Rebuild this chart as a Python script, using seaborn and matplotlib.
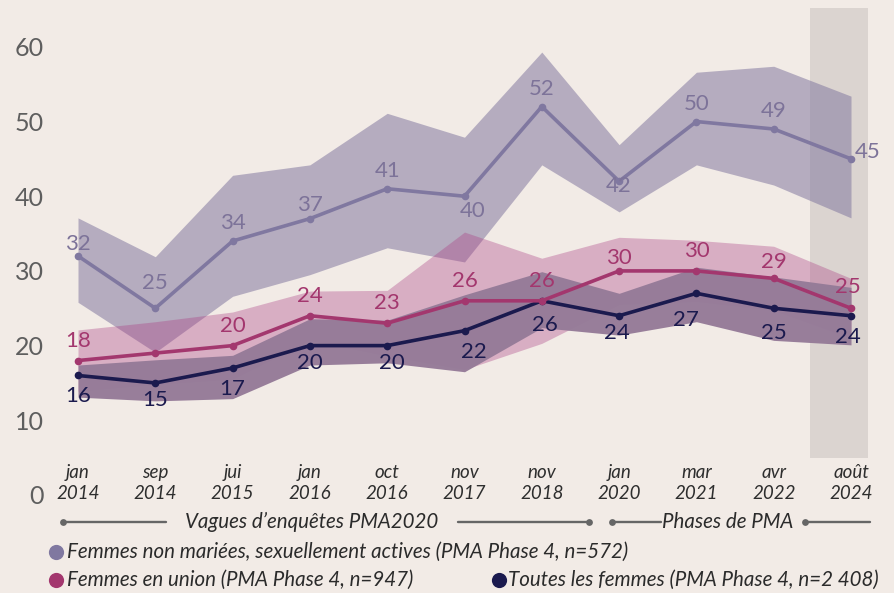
import numpy as np
import pandas as pd
import seaborn as sns
import matplotlib.pyplot as plt

# ---------------- data ----------------
categories = ["jan\n2014", "sep\n2014", "jui\n2015", "jan\n2016", "oct\n2016", "nov\n2017",
              "nov\n2018", "jan\n2020", "mar\n2021", "avr\n2022", "août\n2024"]

nm_values = [32, 25, 34, 37, 41, 40, 52, 42, 50, 49, 45]
nm_upper = [37.1, 31.9, 42.8, 44.2, 51.1, 47.9, 59.3, 46.9, 56.6, 57.4, 53.4]
nm_lower = [25.8, 19.1, 26.6, 29.5, 33.1, 31.2, 44.2, 37.9, 44.2, 41.5, 37.1]

un_values = [18, 19, 20, 24, 23, 26, 26, 30, 30, 29, 25]
un_upper = [22.1, 23.2, 24.5, 27.3, 27.4, 35.2, 31.7, 34.5, 34.1, 33.3, 29.0]
un_lower = [13.9, 14.8, 15.5, 20.7, 18.6, 16.8, 20.3, 25.5, 25.9, 24.7, 21.0]
un_shown = [True, False, True, True, True, True, True, True, True, True, True]

all_values = [16, 15, 17, 20, 20, 22, 26, 24, 27, 25, 24]
all_upper = [17.4, 18.1, 18.7, 23.6, 23.4, 26.8, 29.9, 27.0, 30.5, 29.2, 27.8]
all_lower = [13.1, 12.6, 12.9, 17.4, 17.7, 16.5, 22.4, 21.4, 23.2, 20.7, 20.1]

y_ticks = [0, 10, 20, 30, 40, 50, 60]

legend_nm = "Femmes non mariées, sexuellement actives (PMA Phase 4, n=572)"
legend_un = "Femmes en union (PMA Phase 4, n=947)"
legend_all = "Toutes les femmes (PMA Phase 4, n=2 408)"

# ---------------- style ----------------
BG = "#f2ebe6"
C_NM, C_UN, C_ALL = "#8078a0", "#a3376e", "#1b1a4e"
C_NM_TXT, C_UN_TXT, C_ALL_TXT = "#7d7399", "#a3376e", "#1b1a4e"

sns.set_theme(style="white")
plt.rcParams["font.family"] = ["Lato", "DejaVu Sans"]

fig = plt.figure(figsize=(8.94, 5.93), dpi=100, facecolor=BG)
W, H = 894, 593
ax = fig.add_axes([55 / W, 1 - 505 / H, (880 - 55) / W, (505 - 8) / H])
ax.set_facecolor(BG)

x = np.arange(len(categories))
df = pd.DataFrame({
    "pos": np.tile(x, 3),
    "val": nm_values + un_values + all_values,
    "serie": ["nm"] * len(x) + ["un"] * len(x) + ["all"] * len(x),
})

# highlighted last period column
ax.fill_between([9.47, 10.22], 4.95, 65.2, color="#dbd4d0", lw=0, zorder=0.5)

# confidence bands
ax.fill_between(x, nm_lower, nm_upper, color="#8379a0", alpha=0.55, lw=0, zorder=1)
ax.fill_between(x, un_lower, un_upper, color="#aa3c82", alpha=0.35, lw=0, zorder=1.1)
ax.fill_between(x, all_lower, all_upper, color="#957b98", alpha=0.97, lw=0, zorder=1.2)

# lines
for key, col, z in [("nm", C_NM, 3), ("all", C_ALL, 3.1), ("un", C_UN, 3.2)]:
    sns.lineplot(data=df[df.serie == key], x="pos", y="val", color=col, lw=2.6,
                 marker="o", markersize=5.5, markeredgewidth=0, ax=ax, zorder=z,
                 legend=False)

# data labels (offsets in pixels)
px = 0.72
nm_off = {0: (0, 12), 1: (0, 25), 3: (0, 14), 5: (8, -15), 7: (0, -5), 10: (17, 7)}
un_off = {7: (0, 13), 9: (0, 16), 10: (-3, 21)}
all_off = {1: (0, -17), 3: (0, -17), 4: (5, -17), 5: (9, -21), 6: (3, -24),
           7: (-2, -17), 8: (-10, -27), 9: (0, -25), 10: (-3, -21)}
for i in x:
    dx, dy = nm_off.get(i, (0, 18))
    ax.annotate(str(nm_values[i]), (i, nm_values[i]), xytext=(dx * px, dy * px),
                textcoords="offset points", ha="center", va="center",
                fontsize=16, color=C_NM_TXT, zorder=5)
    if un_shown[i]:
        dx, dy = un_off.get(i, (0, 20))
        ax.annotate(str(un_values[i]), (i, un_values[i]), xytext=(dx * px, dy * px),
                    textcoords="offset points", ha="center", va="center",
                    fontsize=16, color=C_UN_TXT, zorder=5)
    dx, dy = all_off.get(i, (0, -21))
    ax.annotate(str(all_values[i]), (i, all_values[i]), xytext=(dx * px, dy * px),
                textcoords="offset points", ha="center", va="center",
                fontsize=16, color=C_ALL_TXT, zorder=5)

ax.set_xlim(-0.2975, 10.375)
ax.set_ylim(-1.34, 65.2)
ax.set_xticks(x)
ax.set_xticklabels(categories, fontsize=13.5, style="italic", color="#2e2e2e",
                   linespacing=1.3)
ax.set_yticks(y_ticks)
ax.set_yticklabels([str(t) for t in y_ticks], fontsize=18, color="#5e5e5e")
ax.tick_params(axis="x", length=0, pad=-29.5)
ax.tick_params(axis="y", length=0, pad=8)
ax.set_xlabel("")
ax.set_ylabel("")
for s in ax.spines.values():
    s.set_visible(False)

# ---------------- legend area ----------------
lax = fig.add_axes([0, 0, 1, 1], facecolor="none")
lax.set_xlim(0, W)
lax.set_ylim(H, 0)
lax.axis("off")

LG = "#666666"
TXT = "#2b2b2b"
FS = 14.8
y1 = 522
for (xa, xb) in [(63, 166), (458, 589), (612, 661), (805, 870)]:
    lax.plot([xa, xb], [y1, y1], color=LG, lw=1.7)
lax.scatter([63, 589, 612, 805], [y1] * 4, s=24, color=LG, zorder=3, linewidths=0)
lax.text(312, y1, "Vagues d’enquêtes PMA2020", ha="center", va="center",
         fontsize=FS, style="italic", color=TXT)
lax.text(662, y1, "Phases de PMA", ha="left", va="center",
         fontsize=FS, style="italic", color=TXT)

lax.scatter([56], [552], s=120, color=C_NM, linewidths=0)
lax.text(67, 552, legend_nm, ha="left", va="center", fontsize=FS,
         style="italic", color=TXT)
lax.scatter([56], [580], s=120, color=C_UN, linewidths=0)
lax.text(67, 580, legend_un, ha="left", va="center", fontsize=FS,
         style="italic", color=TXT)
lax.scatter([499], [580], s=120, color=C_ALL, linewidths=0)
lax.text(508, 580, legend_all, ha="left", va="center", fontsize=FS,
         style="italic", color=TXT)

fig.savefig("out.png", dpi=100, facecolor=BG)
